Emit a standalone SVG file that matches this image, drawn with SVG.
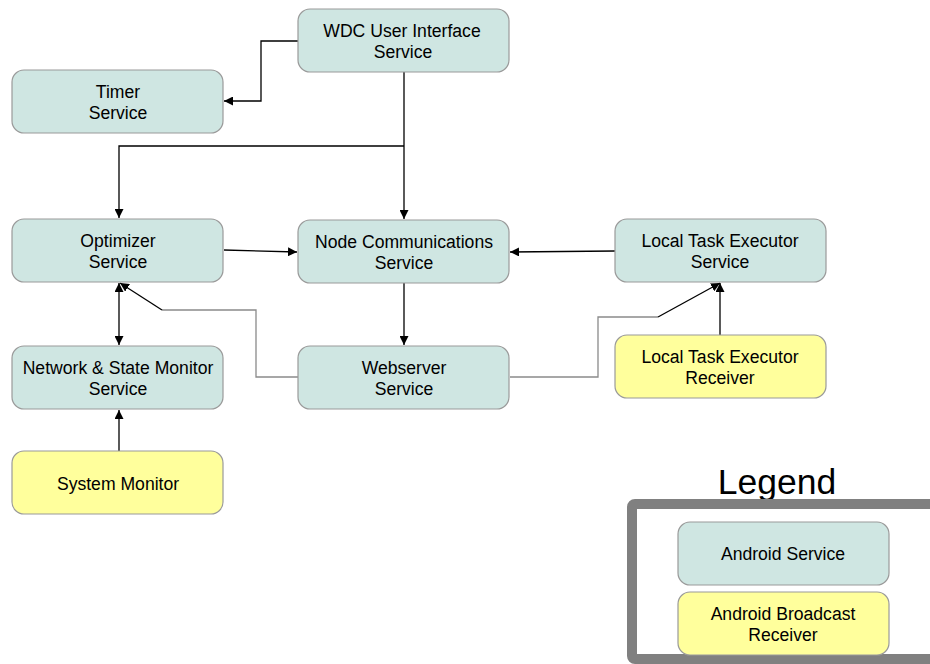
<svg xmlns="http://www.w3.org/2000/svg" width="930" height="664" viewBox="0 0 930 664">
  <style>
    .svc rect { fill: #cfe6e2; stroke: #9a9a9a; stroke-width: 1.2; }
    .rcv rect { fill: #ffff9c; stroke: #9a9a9a; stroke-width: 1.2; }
    text { font-family: "Liberation Sans", Arial, sans-serif; font-size: 17.6px; fill: #000; text-anchor: middle; }
    .conn { fill: none; stroke: #000; stroke-width: 1.3; }
    .grey { fill: none; stroke: #8a8a8a; stroke-width: 1.3; }
  </style>
  <defs>
    <marker id="arrow" viewBox="0 0 10 10" refX="10" refY="5" markerWidth="9" markerHeight="9" markerUnits="userSpaceOnUse" orient="auto-start-reverse">
      <path d="M0,0 L10,5 L0,10 z" fill="#000"/>
    </marker>
  </defs>
  <rect width="930" height="664" fill="#fff"/>

  <g id="connectors">
    <polyline class="conn" points="298,41 261,41 261,101 224,101" marker-end="url(#arrow)"/>
    <line class="conn" x1="404" y1="72" x2="404" y2="219" marker-end="url(#arrow)"/>
    <polyline class="conn" points="404,146 119,146 119,218" marker-end="url(#arrow)"/>
    <line class="conn" x1="224" y1="250" x2="297" y2="252" marker-end="url(#arrow)"/>
    <line class="conn" x1="615" y1="251" x2="510" y2="252" marker-end="url(#arrow)"/>
    <line class="conn" x1="404" y1="283" x2="404" y2="345" marker-end="url(#arrow)"/>
    <line class="conn" x1="119" y1="283" x2="119" y2="345" marker-start="url(#arrow)" marker-end="url(#arrow)"/>
    <polyline class="grey" points="298,377 256,377 256,310 162,310"/>
    <line class="conn" x1="162" y1="310" x2="120" y2="283" marker-end="url(#arrow)"/>
    <polyline class="grey" points="510,377 598,377 598,317 658,317"/>
    <line class="conn" x1="658" y1="317" x2="720" y2="283" marker-end="url(#arrow)"/>
    <line class="conn" x1="720" y1="335" x2="720" y2="283" marker-end="url(#arrow)"/>
    <line class="conn" x1="119" y1="451" x2="119" y2="410" marker-end="url(#arrow)"/>
  </g>

  <g id="wdc-ui" class="svc">
    <rect x="298" y="9" width="211" height="63" rx="12"/>
    <text x="402" y="37">WDC User Interface</text>
    <text x="403" y="58">Service</text>
  </g>
  <g id="timer" class="svc">
    <rect x="12" y="70" width="211" height="63" rx="12"/>
    <text x="118" y="98">Timer</text>
    <text x="118" y="119">Service</text>
  </g>
  <g id="optimizer" class="svc">
    <rect x="12" y="219" width="211" height="63" rx="12"/>
    <text x="118" y="247">Optimizer</text>
    <text x="118" y="268">Service</text>
  </g>
  <g id="node-comm" class="svc">
    <rect x="298" y="220" width="211" height="63" rx="12"/>
    <text x="404" y="248">Node Communications</text>
    <text x="404" y="269">Service</text>
  </g>
  <g id="local-task-service" class="svc">
    <rect x="615" y="219" width="211" height="63" rx="12"/>
    <text x="720" y="247">Local Task Executor</text>
    <text x="720" y="268">Service</text>
  </g>
  <g id="network-monitor" class="svc">
    <rect x="12" y="346" width="211" height="63" rx="12"/>
    <text x="118" y="374">Network &amp; State Monitor</text>
    <text x="118" y="395">Service</text>
  </g>
  <g id="webserver" class="svc">
    <rect x="298" y="346" width="211" height="63" rx="12"/>
    <text x="404" y="374">Webserver</text>
    <text x="404" y="395">Service</text>
  </g>
  <g id="local-task-receiver" class="rcv">
    <rect x="615" y="335" width="211" height="63" rx="12"/>
    <text x="720" y="363">Local Task Executor</text>
    <text x="720" y="384">Receiver</text>
  </g>
  <g id="system-monitor" class="rcv">
    <rect x="12" y="451" width="211" height="63" rx="12"/>
    <text x="118" y="490">System Monitor</text>
  </g>

  <g id="legend">
    <text x="777" y="494" style="font-size:35.5px">Legend</text>
    <rect x="632" y="504" width="400" height="155" fill="none" stroke="#808080" stroke-width="10" rx="3"/>
    <g id="legend-service" class="svc">
      <rect x="678" y="522" width="211" height="63" rx="12"/>
      <text x="783" y="560">Android Service</text>
    </g>
    <g id="legend-receiver" class="rcv">
      <rect x="678" y="592" width="211" height="63" rx="12"/>
      <text x="783" y="620">Android Broadcast</text>
      <text x="783" y="641">Receiver</text>
    </g>
  </g>
</svg>
